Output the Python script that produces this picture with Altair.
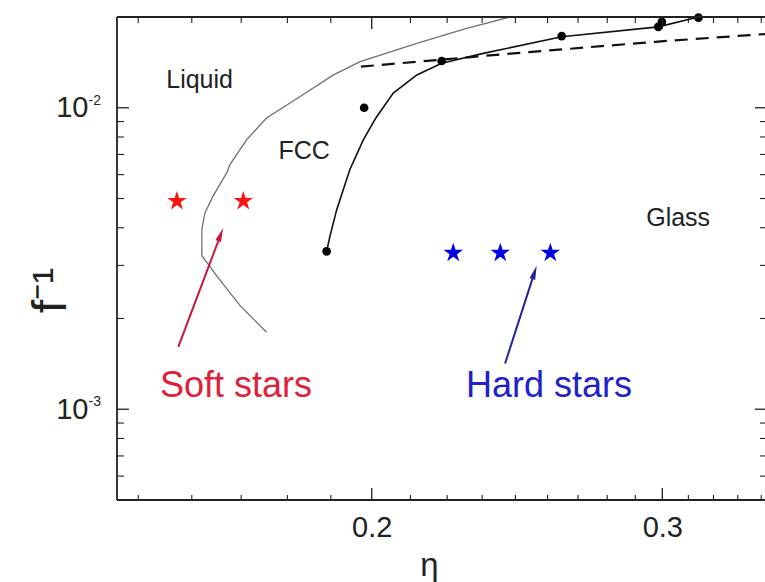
import altair as alt
import pandas as pd

# Liquid / FCC boundary (thin grey curve), listed from top to bottom
liquid_eta = [0.2426, 0.2283, 0.2130, 0.1968, 0.1896, 0.1810, 0.1727, 0.1680, 0.1641,
              0.1634, 0.1603, 0.1585, 0.1578, 0.1578, 0.1589, 0.1611, 0.1664, 0.1727]
liquid_f = [0.0200, 0.01832, 0.01635, 0.01422, 0.01285, 0.01090, 0.00925, 0.00784, 0.00648,
            0.00609, 0.00510, 0.00449, 0.00396, 0.00323, 0.00307, 0.00277, 0.00221, 0.00180]

# FCC / glass boundary (solid black curve)
fcc_eta = [0.1878, 0.1887, 0.1905, 0.1940, 0.1977, 0.2012, 0.2061, 0.2130, 0.2205,
           0.2337, 0.2607, 0.2983, 0.3155]
fcc_f = [0.00334, 0.00376, 0.00461, 0.00624, 0.00784, 0.00927, 0.01118, 0.01285, 0.01405,
         0.01515, 0.01719, 0.01855, 0.0200]

# simulated state points on the FCC / glass boundary
dot_eta = [0.1878, 0.1979, 0.2205, 0.2607, 0.2983, 0.2998, 0.3155]
dot_f = [0.00334, 0.0100, 0.01429, 0.01729, 0.01855, 0.01927, 0.0199]

# dashed line
dash_eta = [0.1970, 0.2437, 0.2970, 0.3462]
dash_f = [0.01369, 0.01515, 0.01655, 0.01756]

# star systems
soft_eta = [0.1524, 0.1672]
soft_f = [0.0049, 0.0049]
hard_eta = [0.2241, 0.2393, 0.2566]
hard_f = [0.0033, 0.0033, 0.0033]

# arrows: tail, head
soft_arrow_eta = [0.1527, 0.1620]
soft_arrow_f = [0.00161, 0.003795]
hard_arrow_eta = [0.2409, 0.2510]
hard_arrow_f = [0.001418, 0.002845]

# region labels
region_names = ["Liquid", "FCC", "Glass"]
region_eta = [0.1573, 0.1820, 0.3067]
region_f = [0.01237, 0.00716, 0.00430]

star_names = ["Soft stars", "Hard stars"]
star_name_eta = [0.1655, 0.2561]
star_name_f = [0.00119, 0.00119]

# axis ticks
x_major = [0.2, 0.3]
x_minor = [0.1444, 0.1556, 0.1667, 0.1778, 0.1889, 0.2111, 0.2222, 0.2333, 0.2444,
           0.2556, 0.2667, 0.2778, 0.2889, 0.3111, 0.3222, 0.3333, 0.3444]
y_major = [0.001, 0.01]
y_minor = [0.0006, 0.0007, 0.0008, 0.0009, 0.002, 0.003, 0.004, 0.005, 0.006, 0.007,
           0.008, 0.009]
y_exponents = ["-3", "-2"]

W, H = 648, 483
INK = "#222222"
FONT = "Liberation Sans"

STAR = ("M0,-1L0.2245,-0.309L0.9511,-0.309L0.3633,0.118L0.5878,0.809L0,0.382"
        "L-0.5878,0.809L-0.3633,0.118L-0.9511,-0.309L-0.2245,-0.309Z")
HEAD = "M0,-1L0.42,1L-0.42,1Z"

xs = alt.Scale(type="log", domain=[0.14018, 0.3462], nice=False)
ys = alt.Scale(type="log", domain=[0.0005, 0.02], nice=False)

x_axis = alt.Axis(values=x_major, format=".1f", ticks=False, tickSize=0, domain=False,
                  grid=False, labelFontSize=29, labelColor=INK, labelPadding=13,
                  labelFont=FONT, title="η", titleFontSize=33, titleFont=FONT,
                  titleFontWeight="normal", titleColor=INK, titleX=312, titleY=75,
                  titleAlign="center", titleBaseline="alphabetic")
y_axis = alt.Axis(values=y_major, labelExpr="'10'", ticks=False, tickSize=0, domain=False,
                  grid=False, labelFontSize=29, labelColor=INK, labelPadding=29,
                  labelFont=FONT, title="f⁻¹", titleFontSize=48, titleFont=FONT,
                  titleFontWeight="normal", titleColor=INK, titleAngle=270,
                  titleX=-52, titleY=273, titleAlign="center",
                  titleBaseline="alphabetic")

X = alt.X("eta:Q", scale=xs, axis=x_axis)
Y = alt.Y("f:Q", scale=ys, axis=y_axis)


def frame(name, vals):
    return pd.DataFrame({name: vals})


def curve(eta, f):
    return pd.DataFrame({"eta": eta, "f": f, "i": list(range(len(eta)))})


one = alt.Data(values=[{}])

# plot frame (left, top, bottom)
frame_layers = [
    alt.Chart(one).mark_rule(color=INK, strokeWidth=1.8).encode(
        x=alt.value(0), y=alt.value(0), y2=alt.value(H)),
    alt.Chart(one).mark_rule(color=INK, strokeWidth=1.8).encode(
        x=alt.value(0), x2=alt.value(W), y=alt.value(0)),
    alt.Chart(one).mark_rule(color=INK, strokeWidth=1.8).encode(
        x=alt.value(0), x2=alt.value(W), y=alt.value(H)),
]

# inward ticks on all four sides
tick_layers = [
    alt.Chart(frame("eta", x_major)).mark_rule(color=INK, strokeWidth=1.3).encode(
        x=X, y=alt.value(H), y2=alt.value(H - 12)),
    alt.Chart(frame("eta", x_minor)).mark_rule(color=INK, strokeWidth=1.1).encode(
        x=X, y=alt.value(H), y2=alt.value(H - 5)),
    alt.Chart(frame("eta", x_major)).mark_rule(color=INK, strokeWidth=1.3).encode(
        x=X, y=alt.value(0), y2=alt.value(12)),
    alt.Chart(frame("eta", x_minor)).mark_rule(color=INK, strokeWidth=1.1).encode(
        x=X, y=alt.value(0), y2=alt.value(6)),
    alt.Chart(frame("f", y_major)).mark_rule(color=INK, strokeWidth=1.3).encode(
        y=Y, x=alt.value(0), x2=alt.value(12)),
    alt.Chart(frame("f", y_minor)).mark_rule(color=INK, strokeWidth=1.1).encode(
        y=Y, x=alt.value(0), x2=alt.value(7)),
    alt.Chart(frame("f", y_major)).mark_rule(color=INK, strokeWidth=1.3).encode(
        y=Y, x=alt.value(W), x2=alt.value(W - 10)),
    alt.Chart(frame("f", y_minor)).mark_rule(color=INK, strokeWidth=1.1).encode(
        y=Y, x=alt.value(W), x2=alt.value(W - 5)),
]

# superscript exponents of the y tick labels
exp_df = pd.DataFrame({"f": y_major, "e": y_exponents})
exponents = alt.Chart(exp_df).mark_text(
    align="left", baseline="middle", dy=-7, fontSize=14, font=FONT, color=INK
).encode(y=Y, x=alt.value(-28.5), text="e:N")

liquid_line = alt.Chart(curve(liquid_eta, liquid_f)).mark_line(
    color="#707070", strokeWidth=1.3, clip=True
).encode(x=X, y=Y, order="i:Q")

fcc_line = alt.Chart(curve(fcc_eta, fcc_f)).mark_line(
    color="#111111", strokeWidth=1.6, clip=True
).encode(x=X, y=Y, order="i:Q")

dash_line = alt.Chart(curve(dash_eta, dash_f)).mark_line(
    color="#111111", strokeWidth=2.2, strokeDash=[13, 8], clip=True
).encode(x=X, y=Y, order="i:Q")

dots = alt.Chart(curve(dot_eta, dot_f)).mark_point(
    shape="circle", filled=True, size=75, color="#000000", opacity=1
).encode(x=X, y=Y)

soft = alt.Chart(curve(soft_eta, soft_f)).mark_point(
    shape=STAR, filled=True, size=420, color="#ff1414", opacity=1, strokeWidth=0
).encode(x=X, y=Y)

hard = alt.Chart(curve(hard_eta, hard_f)).mark_point(
    shape=STAR, filled=True, size=420, color="#0000e6", opacity=1, strokeWidth=0
).encode(x=X, y=Y)

soft_arrow = alt.Chart(curve(soft_arrow_eta, soft_arrow_f)).mark_line(
    color="#c8183a", strokeWidth=2
).encode(x=X, y=Y, order="i:Q")
soft_head = alt.Chart(curve(soft_arrow_eta[1:], soft_arrow_f[1:])).mark_point(
    shape=HEAD, filled=True, size=196, angle=20.8, color="#c8183a", opacity=1, strokeWidth=0
).encode(x=X, y=Y)

hard_arrow = alt.Chart(curve(hard_arrow_eta, hard_arrow_f)).mark_line(
    color="#24249a", strokeWidth=2
).encode(x=X, y=Y, order="i:Q")
hard_head = alt.Chart(curve(hard_arrow_eta[1:], hard_arrow_f[1:])).mark_point(
    shape=HEAD, filled=True, size=196, angle=17.9, color="#24249a", opacity=1, strokeWidth=0
).encode(x=X, y=Y)

regions = alt.Chart(pd.DataFrame({"eta": region_eta, "f": region_f, "t": region_names})).mark_text(
    align="center", baseline="middle", fontSize=25, font=FONT, color=INK
).encode(x=X, y=Y, text="t:N")

star_df = pd.DataFrame({"eta": star_name_eta, "f": star_name_f, "t": star_names})
soft_text = alt.Chart(star_df.iloc[[0]]).mark_text(
    align="center", baseline="middle", fontSize=36, font=FONT, color="#e0203a"
).encode(x=X, y=Y, text="t:N")
hard_text = alt.Chart(star_df.iloc[[1]]).mark_text(
    align="center", baseline="middle", fontSize=36, font=FONT, color="#2020cc"
).encode(x=X, y=Y, text="t:N")

chart = alt.layer(
    liquid_line, fcc_line, dash_line, dots, soft, hard,
    soft_arrow, soft_head, hard_arrow, hard_head,
    regions, soft_text, hard_text, exponents,
    *tick_layers, *frame_layers,
).properties(
    width=W, height=H,
    padding={"left": 117, "top": 17, "right": 0, "bottom": 82},
    autosize=alt.AutoSizeParams(type="none"),
    background="white",
).configure_view(stroke=None).configure(font=FONT)

chart.save("out.html", embed_options={"renderer": "svg", "actions": False})
